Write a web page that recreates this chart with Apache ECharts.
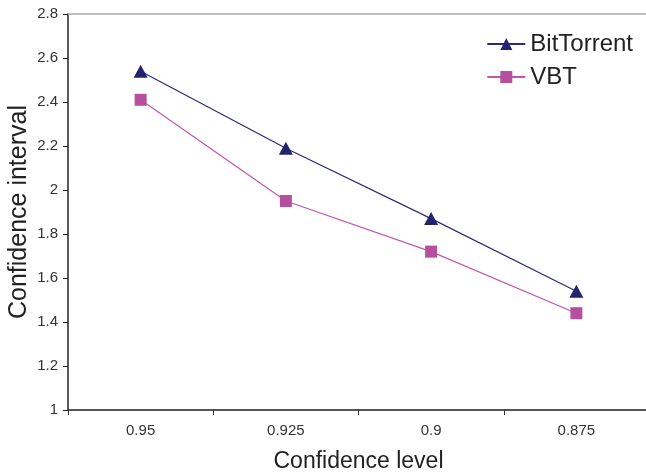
<!DOCTYPE html>
<html><head><meta charset="utf-8">
<script src="https://cdn.jsdelivr.net/npm/echarts@6/dist/echarts.min.js"></script>
<style>html,body{margin:0;padding:0;background:#fff}#c{width:646px;height:476px}</style>
</head><body><div id="c"></div>
<script>
const categories = ['0.95', '0.925', '0.9', '0.875'];
const bitTorrent = [2.54, 2.19, 1.87, 1.54];
const vbt = [2.41, 1.95, 1.72, 1.44];
const yTicks = [1, 1.2, 1.4, 1.6, 1.8, 2, 2.2, 2.4, 2.6, 2.8];

const chart = echarts.init(document.getElementById('c'));
const font = 'Liberation Sans, Arial, sans-serif';
chart.setOption({
  animation: false,
  grid: {left: 68, right: -3, top: 14, bottom: 66, containLabel: false, outerBoundsMode: 'none'},
  legend: {
    right: 8, top: 27, orient: 'vertical', itemGap: 9,
    itemWidth: 38, itemHeight: 15,
    textStyle: {fontFamily: font, fontSize: 24, color: '#222'},
    data: [{name: 'BitTorrent'}, {name: 'VBT'}]
  },
  xAxis: [{
    type: 'category', data: categories, boundaryGap: true,
    name: 'Confidence level', nameLocation: 'middle', nameGap: 40, nameMoveOverlap: false,
    nameTextStyle: {fontFamily: font, fontSize: 23, color: '#222'},
    axisLine: {lineStyle: {color: '#555', width: 2}},
    axisTick: {show: true, length: 5, lineStyle: {color: '#333'}},
    axisLabel: {fontFamily: font, fontSize: 15, color: '#333', margin: 13},
    splitLine: {show: false}
  }, {
    type: 'category', data: categories, position: 'top',
    axisLine: {show: true, lineStyle: {color: '#aaa', width: 1.5}},
    axisTick: {show: false}, axisLabel: {show: false}, splitLine: {show: false}
  }],
  yAxis: {
    type: 'value', min: 1, max: 2.8, interval: 0.2,
    name: 'Confidence interval', nameLocation: 'middle', nameGap: 36, nameMoveOverlap: false,
    nameTextStyle: {fontFamily: font, fontSize: 25, color: '#222'},
    axisLine: {show: true, lineStyle: {color: '#222', width: 1.5}},
    axisTick: {show: true, length: 5, lineStyle: {color: '#222'}},
    axisLabel: {fontFamily: font, fontSize: 15, color: '#333', margin: 10,
      formatter: v => { const t = yTicks.find(x => Math.abs(x - v) < 1e-6); return t === undefined ? '' : String(t); }},
    splitLine: {show: false}
  },
  series: [{
    name: 'BitTorrent', type: 'line', data: bitTorrent,
    symbol: 'triangle', symbolSize: [14, 13],
    lineStyle: {color: '#2b2b78', width: 1.2},
    itemStyle: {color: '#23236e'}
  }, {
    name: 'VBT', type: 'line', data: vbt,
    symbol: 'rect', symbolSize: 12,
    lineStyle: {color: '#c455ad', width: 1.2},
    itemStyle: {color: '#b64f9e'}
  }]
});
</script></body></html>
